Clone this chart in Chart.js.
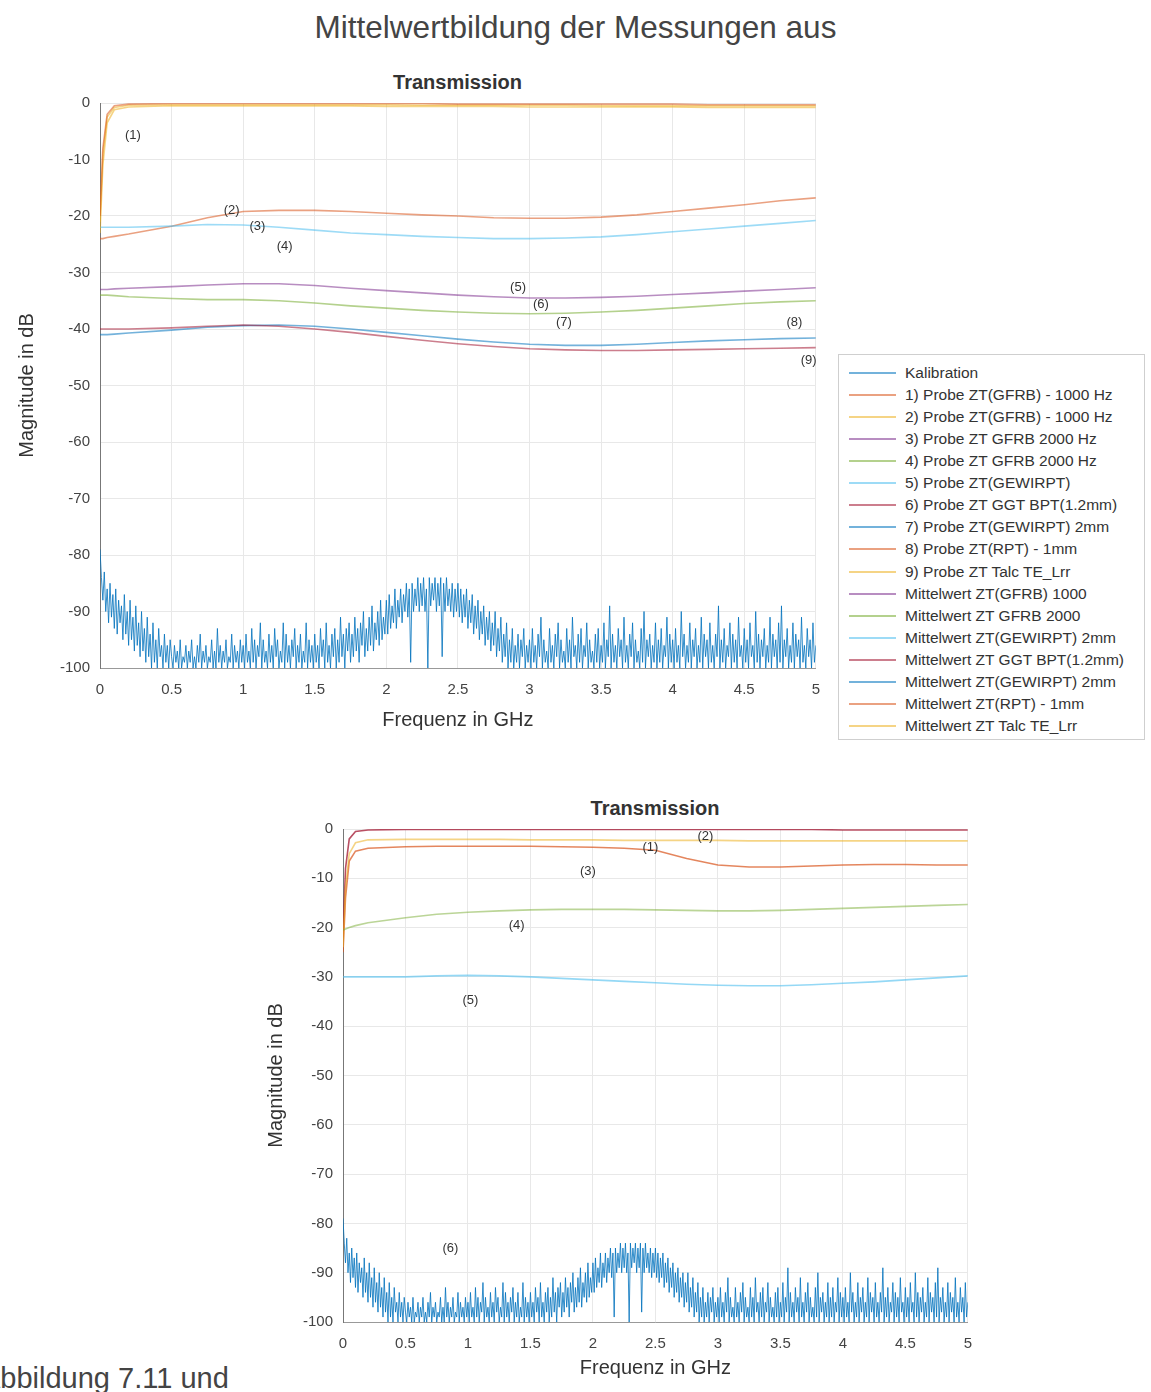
<!DOCTYPE html>
<html>
<head>
<meta charset="utf-8">
<script src="https://cdn.jsdelivr.net/npm/chart.js@4.4.1/dist/chart.umd.min.js"></script>
<style>
  html, body { margin:0; padding:0; background:#fff; }
  body { width:1151px; height:1392px; position:relative; overflow:hidden; font-family:"Liberation Sans", Arial, sans-serif; }
  .abs { position:absolute; }
  #mainTitle { left:0; width:1151px; top:9px; line-height:36px; text-align:center; font-size:31.5px; color:#444; }
  .ptitle { font-size:20px; line-height:24px; font-weight:bold; color:#333; text-align:center; }
  #legend { left:838px; top:354px; width:307px; height:386px; border:1px solid #cfcfcf; background:#fff; box-sizing:border-box; }
  .lrow { position:absolute; left:0; height:22px; width:100%; }
  .lline { position:absolute; left:10px; top:10px; width:47px; height:2px; }
  .ltext { position:absolute; left:66px; top:1px; font-size:15.5px; line-height:20px; color:#333; white-space:nowrap; }
  #caption { left:-19px; top:1362px; line-height:32px; font-size:29px; color:#444; white-space:nowrap; }
</style>
</head>
<body>
<div id="mainTitle" class="abs">Mittelwertbildung der Messungen aus</div>
<div class="abs ptitle" style="left:100px;width:715px;top:70px;">Transmission</div>
<div class="abs ptitle" style="left:343px;width:624px;top:796px;">Transmission</div>
<div class="abs" style="left:0;top:60px;width:833px;height:690px;"><canvas id="c1" width="833" height="690"></canvas></div>
<div class="abs" style="left:243px;top:790px;width:742px;height:600px;"><canvas id="c2" width="742" height="600"></canvas></div>
<div id="legend" class="abs"></div>
<div id="caption" class="abs">Abbildung 7.11 und</div>
<script>
// ---------- axis ticks ----------
const xTicks = [0, 0.5, 1, 1.5, 2, 2.5, 3, 3.5, 4, 4.5, 5];
const yTicks = [0, -10, -20, -30, -40, -50, -60, -70, -80, -90, -100];

// ---------- frequency grids (GHz) ----------
const freqSmooth = [0,0.02,0.05,0.1,0.2,0.5,0.75,1,1.25,1.5,1.75,2,2.25,2.5,2.75,3,3.25,3.5,3.75,4,4.25,4.5,4.75,5];
const noiseStep = 0.01;

// ---------- noise floor (Kalibration), values in dB, one per 0.01 GHz ----------
const noiseDb = [
 -79,-84,-88,-83,-90,-86,-92,-85,-91,-87,-93,-86,-94,-88,-92,-89,-95,-87,-94,-90,-96,-88,-95,-91,-97,-89,-96,-92,-98,-90,-97,-93,-99,-91,-98,-94,-100,-92,-99,-95,-100,-93,-98,-96,-100,-94,-99,-96,-100,-95,
 -98,-100,-96,-99,-97,-100,-95,-100,-98,-99,-96,-100,-97,-99,-95,-100,-98,-100,-96,-99,-94,-100,-97,-99,-96,-100,-98,-99,-95,-100,-97,-100,-93,-99,-96,-100,-97,-99,-95,-100,-98,-99,-94,-100,-96,-99,-97,-100,-95,-99,
 -96,-100,-94,-99,-97,-100,-93,-99,-95,-100,-96,-98,-92,-100,-95,-99,-97,-100,-94,-99,-96,-100,-93,-98,-95,-100,-97,-99,-92,-100,-94,-99,-96,-100,-95,-98,-93,-100,-96,-99,-94,-100,-97,-99,-92,-100,-95,-99,-96,-100,
 -94,-99,-96,-100,-93,-98,-95,-100,-92,-99,-96,-100,-94,-98,-93,-100,-95,-99,-91,-98,-94,-100,-93,-97,-92,-99,-94,-98,-91,-97,-93,-99,-92,-96,-90,-98,-93,-97,-91,-96,-89,-97,-92,-95,-90,-96,-88,-95,-91,-94,
 -88,-94,-87,-93,-89,-92,-86,-93,-88,-91,-86,-92,-87,-90,-85,-91,-86,-99,-85,-90,-86,-89,-84,-90,-85,-89,-84,-90,-86,-100,-84,-89,-85,-88,-84,-90,-85,-89,-84,-98,-85,-90,-84,-89,-86,-90,-85,-91,-86,-90,
 -85,-91,-86,-92,-87,-91,-86,-93,-88,-92,-87,-94,-89,-93,-88,-95,-90,-94,-89,-96,-91,-95,-90,-97,-92,-96,-90,-98,-93,-97,-91,-99,-94,-98,-92,-100,-95,-99,-93,-100,-96,-99,-94,-100,-95,-98,-93,-100,-96,-99,
 -95,-100,-93,-99,-96,-100,-94,-98,-91,-100,-95,-99,-97,-100,-93,-99,-96,-100,-94,-98,-92,-100,-95,-99,-97,-100,-93,-99,-95,-100,-91,-98,-96,-100,-94,-99,-93,-100,-96,-98,-92,-100,-95,-99,-97,-100,-94,-99,-93,-100,
 -96,-99,-92,-100,-95,-98,-89,-100,-94,-99,-96,-100,-93,-98,-95,-100,-91,-99,-96,-100,-94,-98,-92,-100,-95,-99,-97,-100,-93,-99,-90,-100,-95,-98,-94,-100,-96,-99,-92,-100,-95,-99,-93,-100,-96,-98,-91,-100,-94,-99,
 -95,-100,-93,-99,-96,-100,-90,-98,-94,-100,-96,-99,-92,-100,-95,-98,-93,-100,-96,-99,-91,-100,-94,-98,-95,-100,-92,-99,-96,-100,-94,-98,-89,-100,-95,-99,-93,-100,-96,-98,-92,-100,-94,-99,-95,-100,-91,-98,-96,-100,
 -93,-99,-95,-100,-92,-98,-96,-100,-90,-99,-94,-100,-95,-98,-93,-100,-96,-99,-91,-100,-94,-98,-95,-100,-92,-99,-89,-100,-95,-98,-93,-100,-96,-99,-92,-100,-94,-98,-95,-100,-91,-99,-96,-100,-93,-98,-95,-100,-92,-99,
 -96
];

// ---------- top chart: single probes (dB at freqSmooth) ----------
const probe1 = [-20,-8,-2,-0.5,-0.2,-0.1,-0.1,-0.1,-0.1,-0.1,-0.1,-0.1,-0.1,-0.2,-0.2,-0.2,-0.2,-0.2,-0.2,-0.2,-0.3,-0.3,-0.3,-0.3];
const probe2 = [-23,-11,-3.5,-1.2,-0.7,-0.5,-0.5,-0.5,-0.5,-0.5,-0.5,-0.6,-0.6,-0.6,-0.6,-0.7,-0.7,-0.7,-0.7,-0.7,-0.8,-0.8,-0.8,-0.8];
const probe3 = [-33,-33,-33,-32.9,-32.8,-32.5,-32.2,-32,-32,-32.3,-32.8,-33.2,-33.6,-34,-34.3,-34.5,-34.5,-34.4,-34.2,-33.9,-33.6,-33.3,-33,-32.7];
const probe4 = [-34,-34,-34,-34.1,-34.3,-34.6,-34.8,-34.8,-35,-35.4,-35.9,-36.3,-36.7,-37,-37.2,-37.3,-37.2,-37,-36.7,-36.3,-35.9,-35.5,-35.2,-35];
const probe5 = [-22,-22,-22,-22,-22,-21.8,-21.5,-21.6,-22,-22.5,-23,-23.3,-23.6,-23.8,-24,-24,-23.9,-23.7,-23.3,-22.8,-22.3,-21.8,-21.3,-20.8];
const probe6 = [-40,-40,-40,-40,-40,-39.8,-39.5,-39.3,-39.5,-40,-40.6,-41.3,-42,-42.6,-43.1,-43.5,-43.7,-43.8,-43.8,-43.7,-43.6,-43.5,-43.4,-43.3];
const probe7 = [-41,-41,-41,-40.9,-40.7,-40.2,-39.7,-39.4,-39.3,-39.5,-40,-40.6,-41.2,-41.8,-42.3,-42.7,-42.9,-42.9,-42.7,-42.4,-42.1,-41.9,-41.7,-41.6];
const probe8 = [-24,-24,-23.8,-23.6,-23.2,-21.8,-20.3,-19.2,-19,-19,-19.2,-19.5,-19.8,-20,-20.3,-20.4,-20.4,-20.2,-19.8,-19.2,-18.6,-18,-17.3,-16.8];
const probe9 = [-21,-9,-2.5,-0.8,-0.4,-0.3,-0.3,-0.3,-0.3,-0.3,-0.3,-0.3,-0.4,-0.4,-0.4,-0.4,-0.4,-0.5,-0.5,-0.5,-0.5,-0.5,-0.5,-0.5];

// ---------- bottom chart: averages (dB at freqSmooth) ----------
const meanGGT = [-22,-8,-2,-0.5,-0.2,-0.1,-0.1,-0.1,-0.1,-0.1,-0.1,-0.1,-0.1,-0.1,-0.1,-0.1,-0.1,-0.1,-0.1,-0.2,-0.2,-0.2,-0.2,-0.2];
const meanTalc = [-24,-12,-5,-2.8,-2.2,-2.1,-2.1,-2.1,-2.1,-2.2,-2.2,-2.2,-2.3,-2.3,-2.3,-2.3,-2.4,-2.4,-2.4,-2.4,-2.4,-2.4,-2.4,-2.4];
const meanRPT = [-25,-14,-6.5,-4.5,-3.9,-3.6,-3.5,-3.5,-3.5,-3.5,-3.6,-3.7,-3.9,-4.3,-6,-7.3,-7.7,-7.7,-7.5,-7.3,-7.2,-7.2,-7.3,-7.3];
const meanGFRB2000 = [-20.5,-20.3,-20,-19.6,-19,-18,-17.3,-16.9,-16.6,-16.4,-16.3,-16.3,-16.3,-16.4,-16.5,-16.6,-16.6,-16.5,-16.3,-16.1,-15.9,-15.7,-15.5,-15.3];
const meanGEWIRPT = [-30,-30,-30,-30,-30,-30,-29.8,-29.7,-29.8,-30,-30.3,-30.6,-30.9,-31.2,-31.5,-31.7,-31.8,-31.8,-31.6,-31.3,-31,-30.6,-30.2,-29.8];

// ---------- legend names ----------
const legendNames = [
 "Kalibration",
 "1) Probe ZT(GFRB) - 1000 Hz",
 "2) Probe ZT(GFRB) - 1000 Hz",
 "3) Probe ZT GFRB 2000 Hz",
 "4) Probe ZT GFRB 2000 Hz",
 "5) Probe ZT(GEWIRPT)",
 "6) Probe ZT GGT BPT(1.2mm)",
 "7) Probe ZT(GEWIRPT) 2mm",
 "8) Probe ZT(RPT) - 1mm",
 "9) Probe ZT Talc TE_Lrr",
 "Mittelwert ZT(GFRB) 1000",
 "Mittelwert ZT GFRB 2000",
 "Mittelwert ZT(GEWIRPT) 2mm",
 "Mittelwert ZT GGT BPT(1.2mm)",
 "Mittelwert ZT(GEWIRPT) 2mm",
 "Mittelwert ZT(RPT) - 1mm",
 "Mittelwert ZT Talc TE_Lrr"
];
const palette = ["#0072BD","#D95319","#EDB120","#7E2F8E","#77AC30","#4DBEEE","#A2142F"];

// ---------- in-plot annotations ----------
const topNotes = [
 {t:"(1)", x:0.23, y:-5.8}, {t:"(2)", x:0.92, y:-19}, {t:"(3)", x:1.10, y:-21.8},
 {t:"(4)", x:1.29, y:-25.3}, {t:"(5)", x:2.92, y:-32.7}, {t:"(6)", x:3.08, y:-35.7},
 {t:"(7)", x:3.24, y:-38.8}, {t:"(8)", x:4.85, y:-38.8}, {t:"(9)", x:4.95, y:-45.5}
];
const bottomNotes = [
 {t:"(1)", x:2.46, y:-3.7}, {t:"(2)", x:2.90, y:-1.6}, {t:"(3)", x:1.96, y:-8.7},
 {t:"(4)", x:1.39, y:-19.5}, {t:"(5)", x:1.02, y:-34.7}, {t:"(6)", x:0.86, y:-85}
];

// ---------- helpers ----------
function rgba(hex, a) {
  const n = parseInt(hex.slice(1), 16);
  return `rgba(${(n>>16)&255},${(n>>8)&255},${n&255},${a})`;
}
function pts(xs, ys) { return ys.map((v, i) => ({x: xs[i], y: v})); }
const noiseFreq = noiseDb.map((_, i) => +(i * noiseStep).toFixed(2));

function line(label, xs, ys, color, alpha, width) {
  return { label, data: pts(xs, ys), borderColor: rgba(color, alpha), borderWidth: width,
           pointRadius: 0, tension: 0, fill: false };
}

const notesPlugin = {
  id: 'notes',
  afterDatasetsDraw(chart, args, opts) {
    const {ctx, scales} = chart;
    ctx.save();
    ctx.font = '13px "Liberation Sans", Arial, sans-serif';
    ctx.fillStyle = '#333';
    ctx.textAlign = 'center';
    ctx.textBaseline = 'middle';
    (opts.items || []).forEach(n => {
      ctx.fillText(n.t, scales.x.getPixelForValue(n.x), scales.y.getPixelForValue(n.y));
    });
    ctx.restore();
  }
};

function makeOptions(pad, yTitlePad, xTitlePad, xHeight, notes) {
  return {
    responsive: false, animation: false,
    layout: { padding: pad },
    plugins: { legend: { display: false }, title: { display: false }, tooltip: { enabled: false }, notes: { items: notes } },
    scales: {
      x: {
        type: 'linear', min: 0, max: 5,
        afterBuildTicks: s => { s.ticks = xTicks.map(v => ({value: v})); },
        afterFit: s => { s.height = xHeight; },
        ticks: { color: '#444', font: { size: 15 }, padding: 13, maxRotation: 0,
                 callback: v => String(v) },
        grid: { color: '#e8e8e8', drawTicks: false },
        border: { color: '#999' },
        title: { display: true, text: 'Frequenz in GHz', color: '#333', font: { size: 20 },
                 padding: { top: 0, bottom: xTitlePad } }
      },
      y: {
        type: 'linear', min: -100, max: 0,
        afterBuildTicks: s => { s.ticks = yTicks.map(v => ({value: v})); },
        afterFit: s => { s.width = 100; },
        ticks: { color: '#444', font: { size: 15 }, padding: 10, callback: v => String(v) },
        grid: { color: '#e8e8e8', drawTicks: false },
        border: { color: '#777' },
        title: { display: true, text: 'Magnitude in dB', color: '#333', font: { size: 20 },
                 padding: { top: yTitlePad, bottom: 0 } }
      }
    }
  };
}

// ---------- top chart ----------
const probes = [probe1, probe2, probe3, probe4, probe5, probe6, probe7, probe8, probe9];
const topSets = [ line(legendNames[0], noiseFreq, noiseDb, palette[0], 0.8, 1) ];
probes.forEach((p, i) => topSets.push(line(legendNames[i+1], freqSmooth, p, palette[(i+1) % 7], 0.55, 1.6)));
new Chart(document.getElementById('c1'), {
  type: 'line',
  data: { datasets: topSets },
  options: makeOptions({ left: 0, top: 43, right: 12, bottom: 12 }, 15, 6, 70, topNotes),
  plugins: [notesPlugin]
});

// ---------- bottom chart ----------
const bottomSets = [
  line(legendNames[0], noiseFreq, noiseDb, palette[0], 0.8, 1),
  line(legendNames[12], freqSmooth, meanGEWIRPT, palette[5], 0.6, 1.6),
  line(legendNames[11], freqSmooth, meanGFRB2000, palette[4], 0.5, 1.6),
  line(legendNames[16], freqSmooth, meanTalc, palette[2], 0.55, 1.6),
  line(legendNames[15], freqSmooth, meanRPT, palette[1], 0.7, 1.6),
  line(legendNames[13], freqSmooth, meanGGT, palette[6], 0.75, 1.6)
];
new Chart(document.getElementById('c2'), {
  type: 'line',
  data: { datasets: bottomSets },
  options: makeOptions({ left: 0, top: 39, right: 14, bottom: 10 }, 21, 0, 58, bottomNotes),
  plugins: [notesPlugin]
});

// ---------- legend ----------
const leg = document.getElementById('legend');
legendNames.forEach((name, i) => {
  const row = document.createElement('div');
  row.className = 'lrow';
  row.style.top = (7 + i * 22.06) + 'px';
  const ln = document.createElement('div');
  ln.className = 'lline';
  ln.style.background = rgba(palette[i % 7], 0.55);
  const tx = document.createElement('div');
  tx.className = 'ltext';
  tx.textContent = name;
  row.appendChild(ln); row.appendChild(tx);
  leg.appendChild(row);
});
</script>
</body>
</html>
